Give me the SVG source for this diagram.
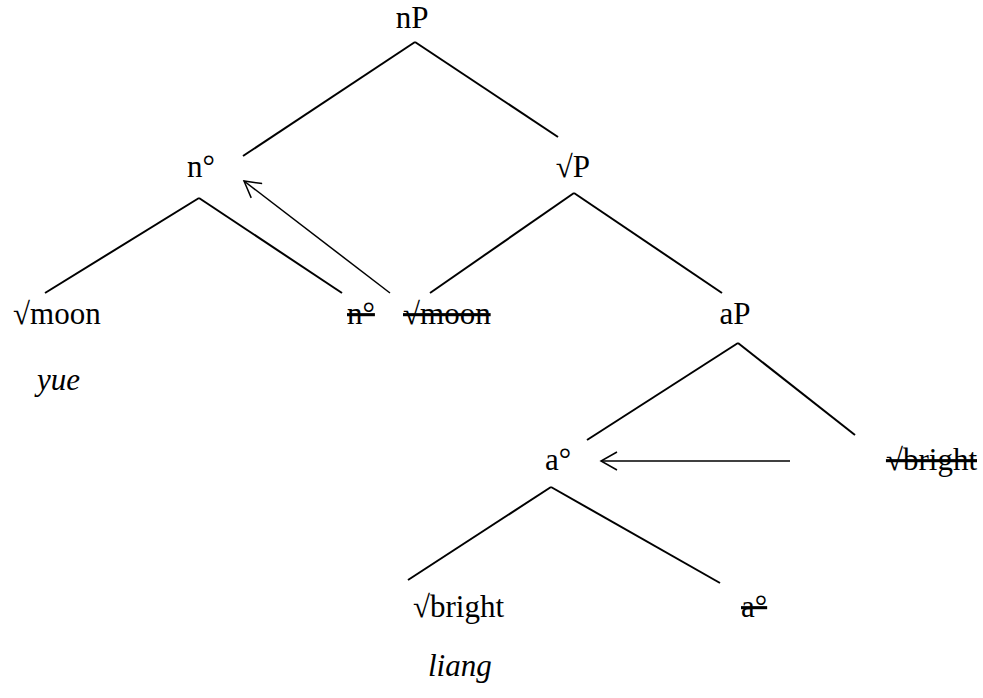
<svg xmlns="http://www.w3.org/2000/svg" width="983" height="698" viewBox="0 0 983 698">
<defs>
<style>
text{font-family:"Liberation Serif","Times New Roman",serif;font-size:31px;fill:#000}
.it{font-style:italic}
.del{text-decoration:line-through}
line{stroke:#000;stroke-width:2}
.mv{stroke-width:1.5}
</style>
<marker id="ah" markerWidth="20" markerHeight="20" refX="18" refY="10" orient="auto" markerUnits="userSpaceOnUse">
<path d="M2,1 L18,10 L2,19" fill="none" stroke="#000" stroke-width="1.5"/>
</marker>
</defs>
<g id="connectors">
<line x1="415" y1="42" x2="243" y2="156"/>
<line x1="415" y1="42" x2="558" y2="137"/>
<line x1="199" y1="198" x2="45" y2="293"/>
<line x1="199" y1="198" x2="342" y2="293"/>
<line x1="574" y1="193" x2="430" y2="293"/>
<line x1="574" y1="193" x2="722" y2="293"/>
<line x1="738" y1="343" x2="587" y2="440"/>
<line x1="738" y1="343" x2="855" y2="435"/>
<line x1="551" y1="487" x2="408" y2="580"/>
<line x1="551" y1="487" x2="720" y2="583"/>
<line class="mv" x1="390" y1="293" x2="244" y2="181" marker-end="url(#ah)"/>
<line class="mv" x1="790" y1="461" x2="601" y2="461" marker-end="url(#ah)"/>
</g>
<g id="nP"><text x="412" y="28" text-anchor="middle">nP</text></g>
<g id="n0"><text x="201" y="177" text-anchor="middle">n°</text></g>
<g id="rootP"><text x="573" y="177" text-anchor="middle">√P</text></g>
<g id="moon"><text x="13" y="324">√moon</text></g>
<g id="yue"><text class="it" x="37" y="390">yue</text></g>
<g id="n0-copy"><text class="del" x="347" y="324">n°</text></g>
<g id="moon-copy"><text class="del" x="403" y="324">√moon</text></g>
<g id="aP"><text x="735" y="324" text-anchor="middle">aP</text></g>
<g id="a0"><text x="558" y="470" text-anchor="middle">a°</text></g>
<g id="bright-copy"><text class="del" x="977" y="470" text-anchor="end">√bright</text></g>
<g id="bright"><text x="413" y="617">√bright</text></g>
<g id="liang"><text class="it" x="428" y="676">liang</text></g>
<g id="a0-copy"><text class="del" x="741" y="617">a°</text></g>
</svg>
